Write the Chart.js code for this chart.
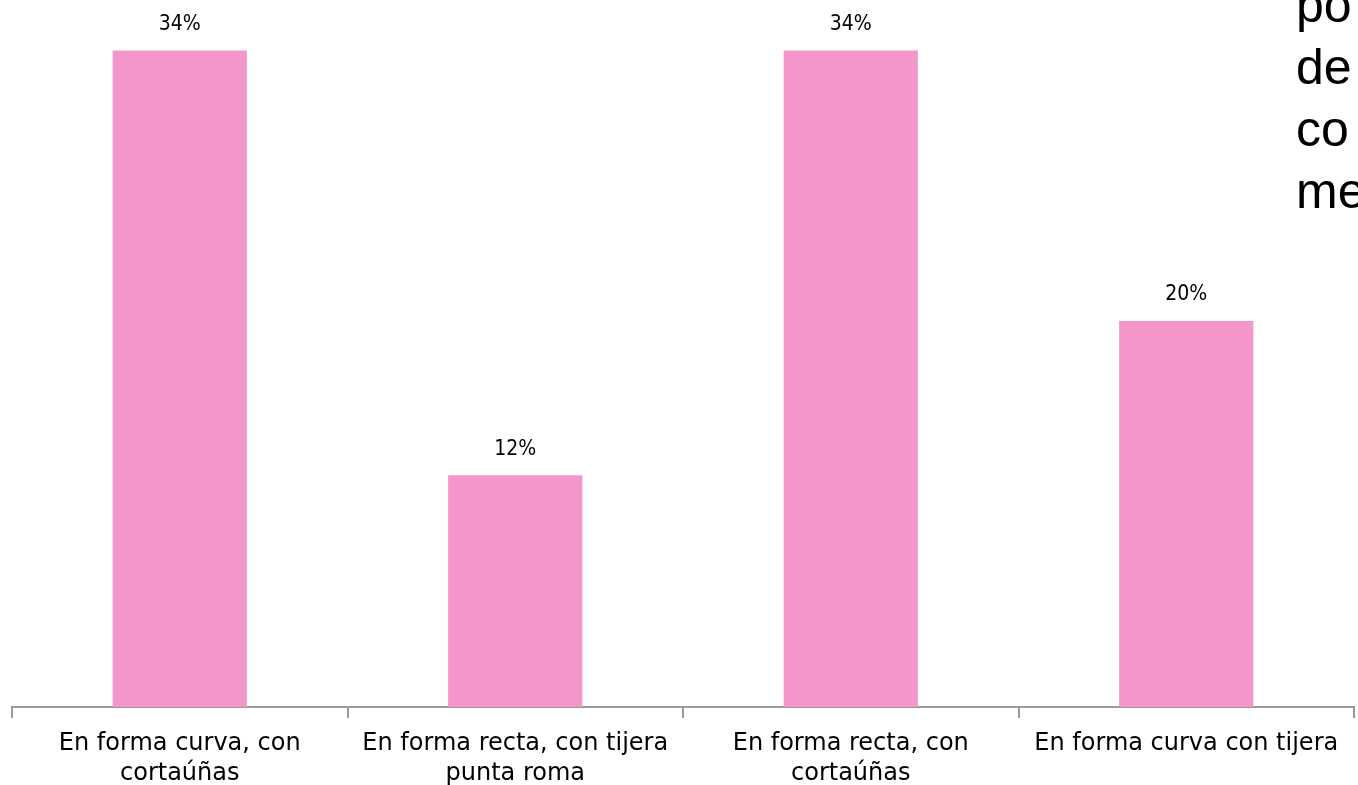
<!DOCTYPE html>
<html>
<head>
<meta charset="utf-8">
<script src="https://cdn.jsdelivr.net/npm/chart.js@4"></script>
<style>
  html, body { margin: 0; padding: 0; background: #fff; overflow: hidden; }
</style>
</head>
<body>
<canvas id="grafica" width="1358" height="785"></canvas>
<script>
// Datos de la gráfica
const categorias = [
  ['En forma curva, con', 'cortaúñas'],
  ['En forma recta, con tijera', 'punta roma'],
  ['En forma recta, con', 'cortaúñas'],
  'En forma curva con tijera'
];
const porcentajes = [34, 12, 34, 20];
// Texto cortado de la diapositiva (esquina superior derecha)
const textoLateral = ['po', 'de', 'co', 'me'];

const fuente = '"DejaVu Sans", sans-serif';

// Etiquetas de porcentaje encima de cada barra + texto lateral
const etiquetasValor = {
  id: 'etiquetasValor',
  afterDatasetsDraw(chart) {
    const ctx = chart.ctx;
    const meta = chart.getDatasetMeta(0);
    ctx.save();
    ctx.font = '21px "DejaVu Sans Condensed", "DejaVu Sans", sans-serif';
    ctx.fillStyle = '#000';
    ctx.textAlign = 'center';
    ctx.textBaseline = 'middle';
    meta.data.forEach((barra, i) => {
      ctx.fillText(porcentajes[i] + '%', barra.x, barra.y - 26);
    });
    ctx.font = '50px "Liberation Sans", Arial, sans-serif';
    ctx.textAlign = 'left';
    ctx.textBaseline = 'alphabetic';
    textoLateral.forEach((t, i) => {
      ctx.fillText(t, 1296, 22 + 62 * i);
    });
    ctx.restore();
  }
};

const ctx = document.getElementById('grafica').getContext('2d');
new Chart(ctx, {
  type: 'bar',
  data: {
    labels: categorias,
    datasets: [{
      data: porcentajes,
      backgroundColor: '#F397CB',
      categoryPercentage: 1,
      barPercentage: 0.4
    }]
  },
  options: {
    responsive: false,
    animation: false,
    layout: { padding: { left: 12, right: 4, top: 12, bottom: 0 } },
    plugins: { legend: { display: false }, tooltip: { enabled: false } },
    scales: {
      x: {
        afterFit(scale) { scale.height = 78; },
        grid: {
          offset: true,
          drawOnChartArea: false,
          drawTicks: true,
          tickLength: 11,
          color: '#9a9a9a',
          lineWidth: 2
        },
        border: { display: true, color: '#9a9a9a', width: 2 },
        ticks: {
          color: '#000',
          font: { family: fuente, size: 24, lineHeight: 1.25 },
          padding: 11,
          maxRotation: 0,
          autoSkip: false
        }
      },
      y: {
        display: false,
        min: 0,
        max: 36
      }
    }
  },
  plugins: [etiquetasValor]
});
</script>
</body>
</html>
